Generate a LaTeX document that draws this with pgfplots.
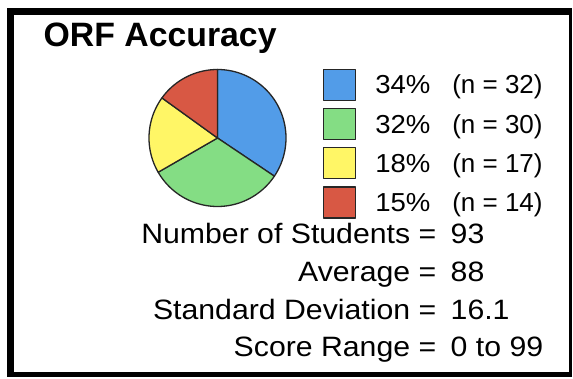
\documentclass[border=0pt]{standalone}
\usepackage{pgfplots}
\pgfplotsset{compat=1.18}
\usepackage{fontspec}
\setmainfont{Liberation Sans}
\newfontfamily\widefont{Liberation Sans}[FakeStretch=1.06]
\newfontfamily\widerfont{Liberation Sans}[FakeStretch=1.08]
\definecolor{pblue}{RGB}{82,156,232}
\definecolor{pgreen}{RGB}{132,221,132}
\definecolor{pyellow}{RGB}{255,246,102}
\definecolor{pred}{RGB}{216,88,68}
% counts per category
\def\nA{32}
\def\nB{30}
\def\nC{17}
\def\nD{14}
\pgfmathsetmacro{\total}{\nA+\nB+\nC+\nD}
\pgfmathsetmacro{\aA}{90}
\pgfmathsetmacro{\aB}{\aA-360*\nA/\total}
\pgfmathsetmacro{\aC}{\aB-360*\nB/\total}
\pgfmathsetmacro{\aD}{\aC-360*\nC/\total}
\pgfmathsetmacro{\aE}{\aD-360*\nD/\total}
\def\cx{217.5}
\def\cy{241}
\def\rr{68.5}
\newcommand{\nfont}{\rmfamily\fontsize{26}{30}\selectfont}
\begin{document}
\begin{tikzpicture}
\begin{axis}[
  width=573pt, height=379pt, scale only axis,
  xmin=0, xmax=573, ymin=0, ymax=379,
  axis line style={draw=none}, xtick=\empty, ytick=\empty,
  clip=false,
  legend style={at={(axis cs:323,310)}, anchor=north west, draw=none, fill=none,
    inner sep=0pt, outer sep=0pt, row sep=6.8pt, column sep=19.5pt,
    font=\widefont\fontsize{26}{30}\selectfont,
    nodes={inner sep=0pt}, cells={anchor=base west}},
  legend image code/.code={\draw[#1] (0pt,-6.7pt) rectangle (31.5pt,24.3pt);},
]
% frame
\fill[black] (axis cs:7,2) rectangle (axis cs:14,371);
\fill[black] (axis cs:7,364) rectangle (axis cs:572,371);
\fill[black] (axis cs:568.5,2) rectangle (axis cs:572,371);
\fill[black] (axis cs:7,2) rectangle (axis cs:572,6.5);

\addplot[draw=black!85, line width=1.3pt, line join=round, fill=pblue, domain=\aB:\aA, samples=80]
  ({\cx+\rr*cos(x)}, {\cy+\rr*sin(x)}) -- (axis cs:\cx,\cy) -- cycle;
\addlegendentry{\makebox[77pt][l]{34\%}{\nfont(n = 32)}}
\addplot[draw=black!85, line width=1.3pt, line join=round, fill=pgreen, domain=\aC:\aB, samples=80]
  ({\cx+\rr*cos(x)}, {\cy+\rr*sin(x)}) -- (axis cs:\cx,\cy) -- cycle;
\addlegendentry{\makebox[77pt][l]{32\%}{\nfont(n = 30)}}
\addplot[draw=black!85, line width=1.3pt, line join=round, fill=pyellow, domain=\aD:\aC, samples=60]
  ({\cx+\rr*cos(x)}, {\cy+\rr*sin(x)}) -- (axis cs:\cx,\cy) -- cycle;
\addlegendentry{\makebox[77pt][l]{18\%}{\nfont(n = 17)}}
\addplot[draw=black!85, line width=1.3pt, line join=round, fill=pred, domain=\aE:\aD, samples=60]
  ({\cx+\rr*cos(x)}, {\cy+\rr*sin(x)}) -- (axis cs:\cx,\cy) -- cycle;
\addlegendentry{\makebox[77pt][l]{15\%}{\nfont(n = 14)}}

% title
\node[anchor=base west, inner sep=0pt, font=\fontsize{33.8}{40}\selectfont\bfseries] at (axis cs:43.5,332.3) {ORF Accuracy};

% summary lines
\tikzset{lab/.style={anchor=base east, inner sep=0pt, font=\widerfont\fontsize{28}{32}\selectfont},
         val/.style={anchor=base west, inner sep=0pt, font=\widerfont\fontsize{28}{32}\selectfont}}
\node[lab] at (axis cs:436.5,135.5) {Number of Students =};
\node[val] at (axis cs:450.5,135.5) {93};
\node[lab] at (axis cs:436.5,97.7) {Average =};
\node[val] at (axis cs:450.5,97.7) {88};
\node[lab] at (axis cs:436.5,59.9) {Standard Deviation =};
\node[val] at (axis cs:450.5,59.9) {16.1};
\node[lab] at (axis cs:436.5,22.1) {Score Range =};
\node[val] at (axis cs:450.5,22.1) {0 to 99};
\end{axis}
\end{tikzpicture}
\end{document}
